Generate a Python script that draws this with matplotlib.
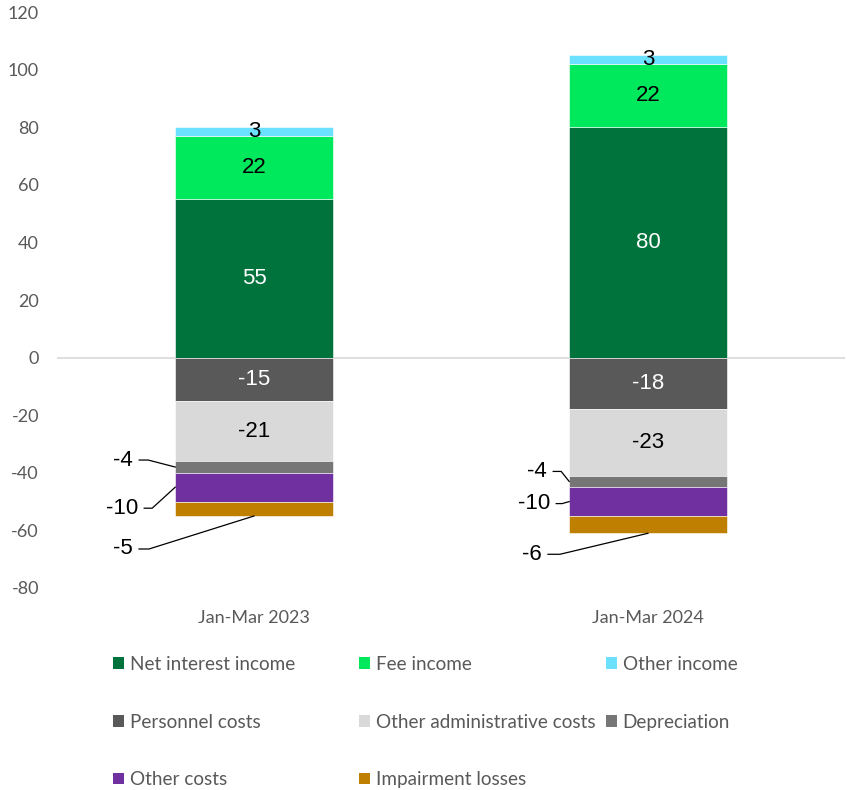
import numpy as np
import matplotlib
matplotlib.use("Agg")
import matplotlib.pyplot as plt
from matplotlib.patches import Patch

plt.rcParams["axes.unicode_minus"] = False

periods = ["Jan-Mar 2023", "Jan-Mar 2024"]

# income items (stacked upwards)
net_interest_income = [55, 80]
fee_income = [22, 22]
other_income = [3, 3]

# cost items (stacked downwards)
personnel_costs = [-15, -18]
other_admin_costs = [-21, -23]
depreciation = [-4, -4]
other_costs = [-10, -10]
impairment_losses = [-5, -6]

income_series = [
    ("Net interest income", net_interest_income, "#00733C", "white"),
    ("Fee income", fee_income, "#00E85C", "black"),
    ("Other income", other_income, "#6CE0FF", "black"),
]
cost_series = [
    ("Personnel costs", personnel_costs, "#595959", "white"),
    ("Other administrative costs", other_admin_costs, "#D9D9D9", "black"),
    ("Depreciation", depreciation, "#767676", None),
    ("Other costs", other_costs, "#7030A0", None),
    ("Impairment losses", impairment_losses, "#BF7F00", None),
]

LABEL_FONT = ["Liberation Sans", "DejaVu Sans"]
AXIS_FONT = ["Lato", "DejaVu Sans"]
GREY = "#595959"

fig = plt.figure(figsize=(8.47, 7.9), dpi=100)
ax = fig.add_axes([0.0673, 0.2557, 0.9303, 0.7291])
ax.set_xlim(-0.5, 1.5)
ax.set_ylim(-80, 120)

x = np.arange(len(periods))
width = 0.4

ax.axhline(0, color="#D9D9D9", lw=1.2, zorder=1)

segments = {}
for series in (income_series, cost_series):
    bottom = np.zeros(len(periods))
    for name, vals, color, txtcol in series:
        vals = np.array(vals, dtype=float)
        ax.bar(x, vals, width, bottom=bottom, color=color, edgecolor="white",
               linewidth=0.4, zorder=2, label=name)
        segments[name] = (bottom.copy(), vals)
        if txtcol is not None:
            for i, v in enumerate(vals):
                ax.text(x[i], bottom[i] + v / 2, f"{v:.0f}", ha="center", va="center",
                        fontsize=16, color=txtcol, family=LABEL_FONT, zorder=3)
        bottom += vals

# small cost items get labels outside the bar with leader lines
# (series, bar index, anchor kind, stub start offset from anchor in px, stub length px)
leaders = [
    ("Depreciation", 0, "side", (-36, -7), 9),
    ("Other costs", 0, "side", (-31, 21), 8),
    ("Impairment losses", 0, "base", (-115, 33), 10),
    ("Depreciation", 1, "side", (-16, -10), 8),
    ("Other costs", 1, "side", (-13, 2), 6),
    ("Impairment losses", 1, "base", (-100, 21), 12),
]
inv = ax.transData.inverted()
for name, i, kind, (dx, dy), stub in leaders:
    bottom, vals = segments[name]
    if kind == "side":
        anchor = (x[i] - width / 2, bottom[i] + vals[i] / 2)
    else:
        anchor = (x[i], bottom[i] + vals[i])
    ax_px, ay_px = ax.transData.transform(anchor)
    sx, sy = ax_px + dx, ay_px - dy
    pts = inv.transform([(sx, sy), (sx + stub, sy), (ax_px, ay_px)])
    ax.plot(pts[:, 0], pts[:, 1], color="black", lw=0.9, clip_on=False, zorder=4)
    tx, ty = inv.transform((sx - 6, sy))
    ax.text(tx, ty, f"{vals[i]:.0f}", ha="right", va="center", fontsize=16,
            color="black", family=LABEL_FONT)

for s in ax.spines.values():
    s.set_visible(False)
ax.set_yticks(range(-80, 121, 20))
ax.set_xticks(x)
ax.set_xticklabels(periods)
ax.tick_params(axis="both", length=0, labelcolor=GREY, labelsize=13)
ax.tick_params(axis="y", pad=13)
ax.tick_params(axis="x", pad=16)
for lbl in ax.get_xticklabels() + ax.get_yticklabels():
    lbl.set_family(AXIS_FONT)

# legend laid out as three fixed-width columns
all_series = income_series + cost_series
columns = [[0, 3, 6], [1, 4, 7], [2, 5]]
col_x = [113, 359, 606]
for col, xpos in zip(columns, col_x):
    handles = [Patch(facecolor=all_series[k][2], edgecolor="none") for k in col]
    labels = [all_series[k][0] for k in col]
    fig.legend(handles, labels, loc="upper left",
               bbox_to_anchor=(xpos / 847, 1 - 656 / 790), frameon=False,
               borderpad=0, borderaxespad=0, handlelength=0.58, handleheight=0.58,
               handletextpad=0.3, labelspacing=2.15,
               prop={"family": AXIS_FONT, "size": 13.6}, labelcolor=GREY)

fig.savefig("out.png", dpi=100)
